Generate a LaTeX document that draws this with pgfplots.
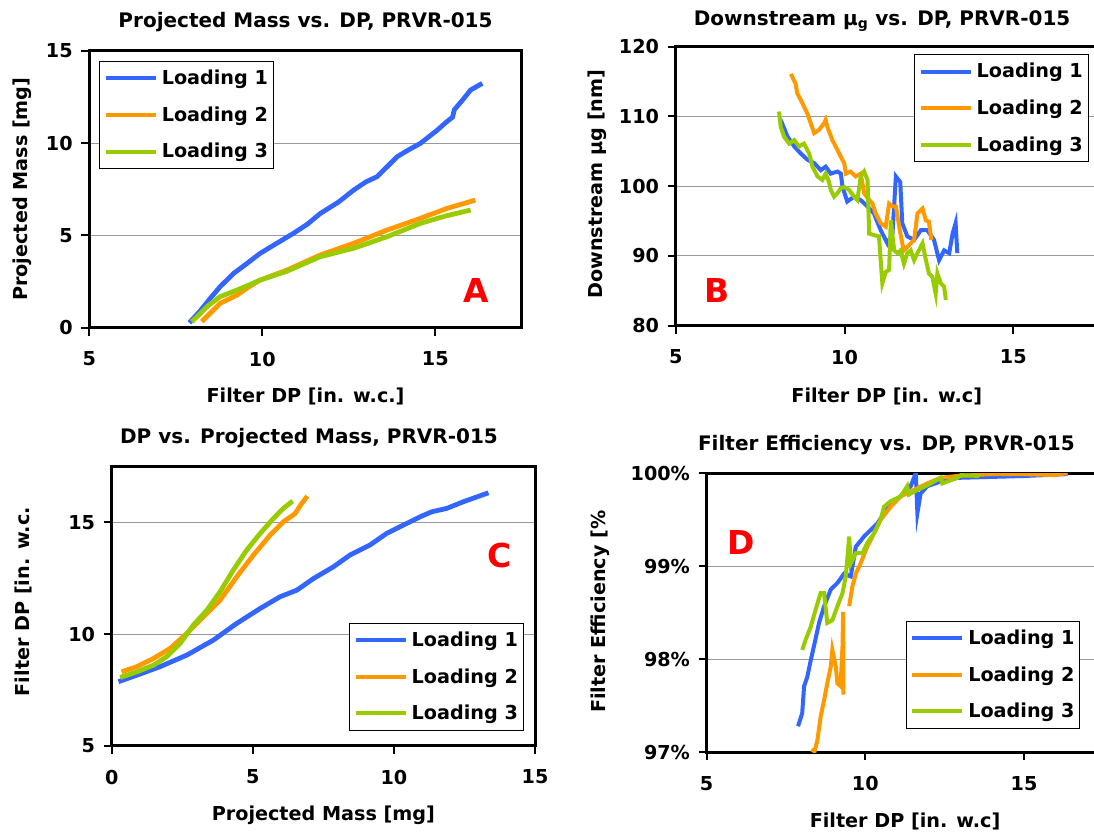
\documentclass[border=0pt]{standalone}
\usepackage{pgfplots}
\pgfplotsset{compat=1.18}
\usepackage{fontspec}
\setmainfont{DejaVu Sans}

\definecolor{load1}{HTML}{3366FF}
\definecolor{load2}{HTML}{FF9900}
\definecolor{load3}{HTML}{99CC00}

\pgfplotsset{
  panel/.style={
    scale only axis, anchor=south west,
    axis line style={black, line width=2.25pt},
    tick align=outside, tick pos=left,
    major tick length=6pt,
    every tick/.style={black, line width=1.5pt},
    ymajorgrids, grid style={line width=0.75pt, color=black!40},
    /pgf/number format/assume math mode=true,
    xticklabel style={yshift=-8.5pt},
    yticklabel style={xshift=-3pt},
    title style={font=\fontsize{15}{18}\selectfont\bfseries, anchor=center},
    every axis x label/.style={anchor=center},
    every axis y label/.style={anchor=center, rotate=90},
    legend image code/.code={\draw[#1, line width=3pt] (0pt,0pt) -- (37.5pt,0pt);},
    legend cell align=left,
    legend style={draw=black, line width=0.75pt, fill=white, anchor=north west,
      inner xsep=3pt, inner ysep=5.5pt, row sep=13pt, column sep=2pt,
      nodes={inner sep=1pt}},
    every axis plot/.append style={line width=3pt, no markers},
  },
}
\tikzset{tag/.style={text=red, font=\fontsize{24.7}{28}\selectfont\bfseries}}

\begin{document}
\begin{tikzpicture}[font=\fontsize{14.4}{17}\selectfont\bfseries]
\useasboundingbox (0,0) rectangle (820.5pt,627pt);
\clip (0,0) rectangle (820.5pt,627pt);

% A: projected mass vs DP
\begin{axis}[panel, at={(67pt,381.2pt)}, width=324.3pt, height=207.8pt,
  xmin=5, xmax=17.5, ymin=0, ymax=15, xtick={5,10,15}, ytick={0,5,10,15},
  title={Projected Mass vs. DP, PRVR-015},
  title style={at={(axis description cs:0.5,1.075)}},
  xlabel={Filter DP [in. w.c.]}, xlabel style={at={(axis description cs:0.5,-0.249)}},
  ylabel={Projected Mass [mg]}, ylabel style={at={(axis description cs:-0.154,0.5)}},
  every axis plot/.append style={line width=3.6pt},
  legend style={at={(rel axis cs:0.023,0.963)}}]
\addplot[load1] coordinates {(7.89,0.27) (8.2,0.9) (8.5,1.6) (8.78,2.22) (9.17,2.94) (9.5,3.4) (9.94,4.03) (10.4,4.55) (10.9,5.11) (11.3,5.6) (11.68,6.19) (12.2,6.8) (12.64,7.45) (13.0,7.9) (13.32,8.18) (13.6,8.7) (13.9,9.26) (14.2,9.6) (14.57,9.98) (15.06,10.7) (15.3,11.1) (15.5,11.4) (15.55,11.8) (15.8,12.35) (16.02,12.87) (16.36,13.23)};
\addplot[load2] coordinates {(8.25,0.33) (8.5,0.8) (8.78,1.32) (9.27,1.77) (9.6,2.2) (9.94,2.58) (10.71,3.12) (11.68,3.94) (12.64,4.57) (13.61,5.29) (14.57,5.92) (15.34,6.46) (16.16,6.91)};
\addplot[load3] coordinates {(7.96,0.33) (8.2,0.75) (8.4,1.14) (8.78,1.68) (9.27,2.04) (9.94,2.58) (10.7,3.05) (11.68,3.85) (12.64,4.3) (13.61,4.93) (14.57,5.65) (15.3,6.05) (16.02,6.37)};
\legend{Loading 1, Loading 2, Loading 3}
\node[tag] at (rel axis cs:0.894,0.136) {A};
\end{axis}

% B: downstream geometric mean vs DP
\begin{axis}[panel, at={(506.8pt,382.7pt)}, width=316.5pt, height=209.3pt,
  xmin=5, xmax=17.5, ymin=80, ymax=120, xtick={5,10,15}, ytick={80,90,100,110,120},
  title={Downstream μ\textsubscript{g} vs. DP, PRVR-015},
  title style={at={(axis description cs:0.489,1.063)}},
  xlabel={Filter DP [in. w.c]}, xlabel style={at={(axis description cs:0.5,-0.254)}},
  ylabel={Downstream μg [nm]}, ylabel style={at={(axis description cs:-0.186,0.507)}},
  legend style={at={(rel axis cs:0.565,0.973)}}]
\addplot[load1] coordinates {(8.11,109.5) (8.31,107.1) (8.51,105.7) (8.70,104.7) (8.90,103.8) (9.10,103.3) (9.30,102.3) (9.44,102.8) (9.59,101.8) (9.79,102.1) (9.89,101.8) (9.94,99.9) (10.08,97.8) (10.28,98.5) (10.48,98.0) (10.68,97.1) (10.87,96.1) (11.07,93.7) (11.27,91.8) (11.42,93.2) (11.52,101.4) (11.65,100.6) (11.71,94.7) (11.86,92.8) (12.06,92.3) (12.26,93.7) (12.45,93.7) (12.65,92.3) (12.80,89.4) (12.95,90.8) (13.10,90.4) (13.20,93.2) (13.29,94.7) (13.34,90.4)};
\addplot[load2] coordinates {(8.41,116.1) (8.55,114.7) (8.60,113.3) (8.70,112.4) (8.80,111.4) (8.90,110.4) (9.00,109.0) (9.10,107.6) (9.25,108.1) (9.39,109.0) (9.44,109.5) (9.49,108.5) (9.64,106.6) (9.79,105.2) (9.89,104.2) (9.99,103.3) (10.04,101.8) (10.18,102.1) (10.33,101.4) (10.48,101.8) (10.58,99.0) (10.68,98.3) (10.83,97.5) (10.92,96.1) (11.07,94.7) (11.22,94.2) (11.32,97.5) (11.42,97.1) (11.52,97.1) (11.62,94.2) (11.71,91.8) (11.76,90.8) (11.86,91.3) (12.06,92.3) (12.16,96.1) (12.31,96.8) (12.41,95.1) (12.50,94.9) (12.57,92.3)};
\addplot[load3] coordinates {(8.06,110.7) (8.11,108.5) (8.21,107.1) (8.36,106.1) (8.51,106.6) (8.65,105.7) (8.80,106.1) (8.95,104.7) (9.05,102.8) (9.20,101.4) (9.34,100.9) (9.44,101.8) (9.54,100.6) (9.59,99.5) (9.69,98.5) (9.79,99.0) (9.89,99.7) (9.99,99.9) (10.13,99.5) (10.28,98.5) (10.38,98.0) (10.48,101.4) (10.58,102.1) (10.68,100.9) (10.73,93.2) (10.87,93.0) (11.02,92.8) (11.12,86.1) (11.22,87.7) (11.32,88.0) (11.37,95.1) (11.47,90.8) (11.57,90.4) (11.66,90.8) (11.76,88.9) (11.86,90.4) (11.96,90.8) (12.06,89.4) (12.16,90.4) (12.31,91.8) (12.41,89.4) (12.50,87.5) (12.60,87.0) (12.70,84.6) (12.75,87.5) (12.85,86.1) (12.95,85.6) (13.00,83.7)};
\legend{Loading 1, Loading 2, Loading 3}
\node[tag] at (rel axis cs:0.097,0.128) {B};
\end{axis}

% C: DP vs projected mass
\begin{axis}[panel, at={(83.8pt,67.7pt)}, width=317.5pt, height=209.3pt,
  xmin=0, xmax=15, ymin=5, ymax=17.5, xtick={0,5,10,15}, ytick={5,10,15},
  title={DP vs. Projected Mass, PRVR-015},
  title style={at={(axis description cs:0.466,1.075)}},
  xlabel={Projected Mass [mg]}, xlabel style={at={(axis description cs:0.5,-0.248)}},
  ylabel={Filter DP [in. w.c.}, ylabel style={at={(axis description cs:-0.208,0.516)}},
  every axis plot/.append style={line width=3.6pt},
  legend style={at={(rel axis cs:0.561,0.441)}}]
\addplot[load1] coordinates {(0.24,7.87) (0.89,8.16) (1.71,8.54) (2.66,9.06) (3.60,9.73) (4.43,10.48) (5.26,11.15) (5.96,11.67) (6.56,11.97) (7.15,12.49) (7.85,13.01) (8.44,13.54) (9.15,13.99) (9.74,14.51) (10.33,14.88) (10.92,15.25) (11.34,15.48) (11.87,15.63) (12.46,15.93) (13.35,16.33)};
\addplot[load2] coordinates {(0.35,8.31) (0.89,8.54) (1.48,8.91) (2.07,9.36) (2.66,10.03) (3.25,10.78) (3.84,11.52) (4.43,12.57) (5.02,13.54) (5.61,14.43) (6.08,15.03) (6.50,15.40) (6.73,15.85) (6.93,16.18)};
\addplot[load3] coordinates {(0.30,8.06) (0.89,8.31) (1.48,8.61) (1.95,8.99) (2.42,9.58) (2.89,10.40) (3.37,11.07) (3.84,11.90) (4.31,12.87) (4.78,13.76) (5.26,14.51) (5.73,15.18) (6.08,15.63) (6.41,15.96)};
\legend{Loading 1, Loading 2, Loading 3}
\node[tag] at (rel axis cs:0.917,0.683) {C};
\end{axis}

% D: filter efficiency vs DP
\begin{axis}[panel, at={(530pt,62.8pt)}, width=297.5pt, height=209.3pt,
  xmin=5, xmax=17.5, ymin=97, ymax=100, xtick={5,10,15}, ytick={97,98,99,100},
  yticklabels={97\%,98\%,99\%,100\%}, unbounded coords=jump,
  title={Filter Efficiency vs. DP, PRVR-015},
  title style={at={(axis description cs:0.453,1.072)}},
  xlabel={Filter DP [in. w.c]}, xlabel style={at={(axis description cs:0.5,-0.249)}},
  ylabel={Filter Efficiency [\%}, ylabel style={at={(axis description cs:-0.267,0.504)}},
  legend style={at={(rel axis cs:0.502,0.471)}}]
\addplot[load1] coordinates {(7.88,97.28) (8.01,97.42) (8.07,97.71) (8.17,97.81) (8.28,97.99) (8.38,98.14) (8.54,98.39) (8.70,98.57) (8.91,98.75) (9.12,98.82) (9.33,98.92) (9.54,98.89) (9.70,99.21) (9.96,99.32) (10.17,99.39) (10.38,99.46) (10.59,99.57) (10.80,99.68) (11.11,99.75) (11.43,99.86) (11.53,99.95) (11.59,100.0) (11.64,99.57) (11.74,99.78) (11.95,99.86) (12.37,99.91) (12.90,99.95) (13.95,99.96) (15.0,99.97) (16.37,99.99)};
\addplot[load2] coordinates {(8.30,97.03) (8.40,97.01) (8.49,97.13) (8.59,97.38) (8.70,97.56) (8.80,97.74) (8.91,97.92) (8.96,98.10) (9.07,97.92) (9.12,97.74) (9.22,97.71) (9.28,98.14) (9.30,98.51) (9.31,97.62) (9.40,nan) (9.49,98.57) (9.59,98.78) (9.70,98.92) (9.85,99.03) (10.06,99.21) (10.27,99.35) (10.48,99.50) (10.80,99.64) (11.11,99.75) (11.53,99.82) (11.95,99.89) (12.37,99.95) (12.90,99.97) (13.95,99.99) (15.0,99.99) (15.95,99.98) (16.37,100.0)};
\addplot[load3] coordinates {(8.01,98.10) (8.12,98.21) (8.28,98.35) (8.43,98.53) (8.59,98.71) (8.70,98.71) (8.80,98.39) (8.96,98.42) (9.12,98.57) (9.28,98.71) (9.38,98.89) (9.43,99.07) (9.49,99.32) (9.54,99.03) (9.70,99.14) (9.91,99.14) (10.06,99.25) (10.27,99.35) (10.48,99.50) (10.59,99.64) (10.80,99.70) (11.11,99.75) (11.32,99.86) (11.37,99.77) (11.64,99.82) (11.95,99.87) (12.37,99.95) (12.42,99.89) (12.90,99.95) (13.01,99.98) (13.59,99.97)};
\legend{Loading 1, Loading 2, Loading 3}
\node[tag] at (rel axis cs:0.087,0.751) {D};
\end{axis}
\end{tikzpicture}
\end{document}
